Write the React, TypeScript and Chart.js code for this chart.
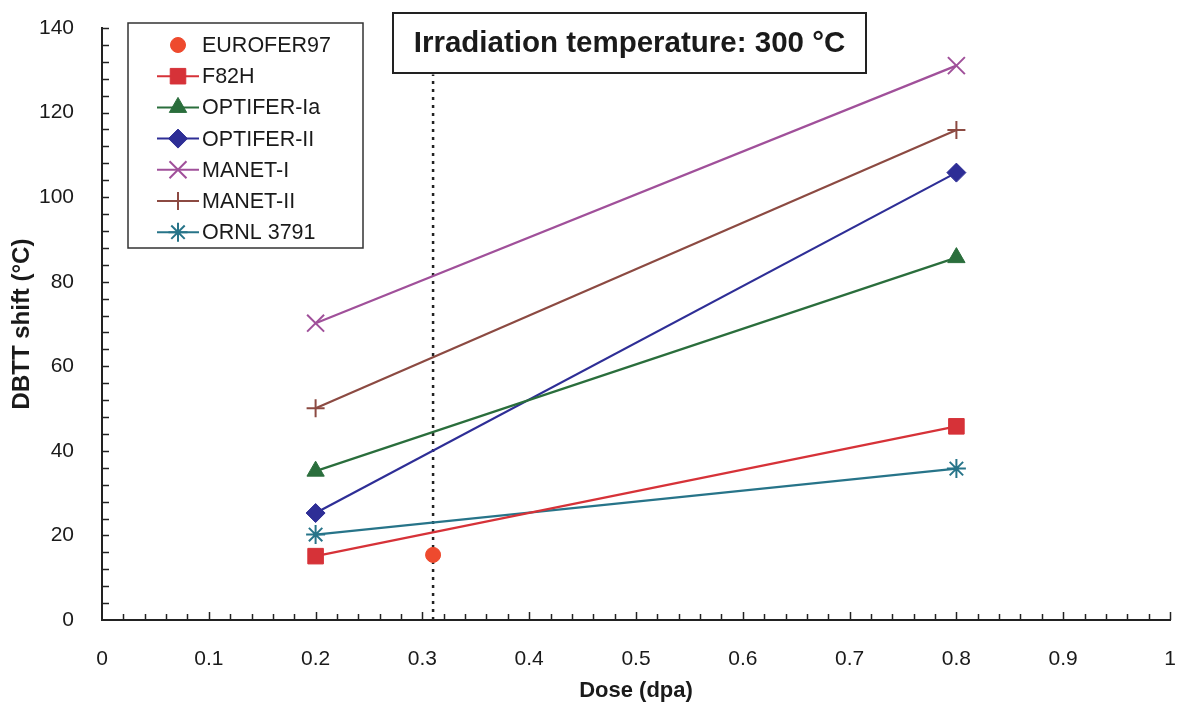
import React, { useEffect, useRef } from "react";
import { Chart, registerables } from "chart.js";
import { drawPoint } from "chart.js/helpers";

Chart.register(...registerables);

// ---- Data ----
const doses = [0.2, 0.8];
const eurofer97Dose = [0.31];
const eurofer97 = [15.4];
const f82h = [15.1, 45.8];
const optiferIa = [35.2, 85.7];
const optiferII = [25.3, 105.8];
const manetI = [70.2, 131.1];
const manetII = [50.1, 115.9];
const ornl3791 = [20.2, 35.8];
const refLineDose = [0.31, 0.31];
const refLineShift = [0, 129];

const seriesNames = [
  "EUROFER97",
  "F82H",
  "OPTIFER-Ia",
  "OPTIFER-II",
  "MANET-I",
  "MANET-II",
  "ORNL 3791",
];
const seriesColors = [
  "#ee4a2e",
  "#d63238",
  "#2a6e3c",
  "#2e2e96",
  "#a0509a",
  "#8c4a42",
  "#277489",
];
const titleText = "Irradiation temperature: 300 °C";
const xTitle = "Dose (dpa)";
const yTitle = "DBTT shift (°C)";
const xMin = 0, xMax = 1, xStep = 0.1, xMinorStep = 0.02;
const yMin = 0, yMax = 140, yStep = 20, yMinorStep = 4;

const FONT = "'Liberation Sans', Arial, Helvetica, sans-serif";

const toPts = (xs: number[], ys: number[]) => ys.map((y, i) => ({ x: xs[i], y }));

const inwardTicks = {
  id: "inwardTicks",
  beforeDatasetsDraw(chart: any) {
    const { ctx, chartArea } = chart;
    const xs = chart.scales.x;
    const ys = chart.scales.y;
    ctx.save();
    ctx.strokeStyle = "#222";
    ctx.lineWidth = 1.5;
    const nx = Math.round((xMax - xMin) / xMinorStep);
    for (let i = 1; i <= nx; i++) {
      const v = xMin + i * xMinorStep;
      const px = Math.round(xs.getPixelForValue(v)) + 0.5;
      const len = i % 5 === 0 ? 8 : 6;
      ctx.beginPath();
      ctx.moveTo(px, chartArea.bottom);
      ctx.lineTo(px, chartArea.bottom - len);
      ctx.stroke();
    }
    const ny = Math.round((yMax - yMin) / yMinorStep);
    for (let i = 1; i <= ny; i++) {
      const v = yMin + i * yMinorStep;
      const py = Math.round(ys.getPixelForValue(v)) + 0.5;
      ctx.beginPath();
      ctx.moveTo(chartArea.left, py);
      ctx.lineTo(chartArea.left + 7, py);
      ctx.stroke();
    }
    ctx.restore();
  },
};

const boxesPlugin = {
  id: "boxes",
  afterDraw(chart: any) {
    const { ctx, chartArea } = chart;
    ctx.save();
    // Title box
    const tL = chartArea.left + 291;
    const tT = chartArea.top - 15;
    const tW = 473;
    const tH = 60;
    ctx.fillStyle = "#fff";
    ctx.fillRect(tL, tT, tW, tH);
    ctx.strokeStyle = "#222";
    ctx.lineWidth = 2;
    ctx.strokeRect(tL, tT, tW, tH);
    ctx.fillStyle = "#1a1a1a";
    ctx.font = `bold 29.5px ${FONT}`;
    ctx.textAlign = "center";
    ctx.textBaseline = "middle";
    ctx.fillText(titleText, tL + tW / 2, tT + tH / 2 + 1);

    // Legend box
    const lL = chartArea.left + 26;
    const lT = chartArea.top - 5;
    const lW = 235;
    const lH = 225;
    ctx.fillStyle = "#fff";
    ctx.fillRect(lL, lT, lW, lH);
    ctx.strokeStyle = "#333";
    ctx.lineWidth = 1.5;
    ctx.strokeRect(lL, lT, lW, lH);
    const items = chart.data.datasets.filter((d: any) => !d.hideInLegend);
    items.forEach((ds: any, i: number) => {
      const y = lT + 22 + i * 31.2;
      if (ds.showLine !== false) {
        ctx.strokeStyle = ds.borderColor;
        ctx.lineWidth = 2;
        ctx.beginPath();
        ctx.moveTo(lL + 29, y);
        ctx.lineTo(lL + 71, y);
        ctx.stroke();
      }
      ctx.fillStyle = ds.pointBackgroundColor;
      ctx.strokeStyle = ds.pointBorderColor;
      ctx.lineWidth = ds.pointBorderWidth;
      drawPoint(
        ctx,
        {
          pointStyle: ds.pointStyle,
          radius: ds.pointRadius,
          rotation: 0,
          borderWidth: ds.pointBorderWidth,
        } as any,
        lL + 50,
        y
      );
      ctx.fillStyle = "#1a1a1a";
      ctx.font = `21.5px ${FONT}`;
      ctx.textAlign = "left";
      ctx.textBaseline = "middle";
      ctx.fillText(ds.label, lL + 74, y + 1);
    });
    ctx.restore();
  },
};

const styles = [
  { style: "circle", radius: 7.5, bw: 1 },
  { style: "rect", radius: 11, bw: 1 },
  { style: "triangle", radius: 10, bw: 1 },
  { style: "rectRot", radius: 9.5, bw: 1 },
  { style: "crossRot", radius: 12, bw: 2 },
  { style: "cross", radius: 9, bw: 2 },
  { style: "star", radius: 9.5, bw: 2 },
];

export default function App() {
  const ref = useRef<HTMLCanvasElement | null>(null);

  useEffect(() => {
    document.body.style.margin = "0";
    if (!ref.current) return;
    const series = [
      toPts(eurofer97Dose, eurofer97),
      toPts(doses, f82h),
      toPts(doses, optiferIa),
      toPts(doses, optiferII),
      toPts(doses, manetI),
      toPts(doses, manetII),
      toPts(doses, ornl3791),
    ];
    const datasets: any[] = series.map((data, i) => ({
      label: seriesNames[i],
      data,
      showLine: i !== 0,
      borderColor: seriesColors[i],
      backgroundColor: seriesColors[i],
      pointBackgroundColor: seriesColors[i],
      pointBorderColor: seriesColors[i],
      pointStyle: styles[i].style,
      pointRadius: styles[i].radius,
      pointHoverRadius: styles[i].radius,
      pointBorderWidth: styles[i].bw,
      borderWidth: 2.2,
      tension: 0,
      order: 1,
    }));
    datasets.push({
      label: "reference dose",
      data: toPts(refLineDose, refLineShift),
      showLine: true,
      borderColor: "#222",
      borderWidth: 2.5,
      borderDash: [3, 5],
      pointRadius: 0,
      hideInLegend: true,
      order: 100,
    });

    const chart = new Chart(ref.current, {
      type: "scatter",
      data: { datasets },
      options: {
        responsive: false,
        animation: false,
        devicePixelRatio: 1,
        layout: { padding: { top: 28, right: 12, left: 0, bottom: 0 } },
        plugins: {
          legend: { display: false },
          tooltip: { enabled: false },
        },
        scales: {
          x: {
            type: "linear",
            min: xMin,
            max: xMax,
            grid: { display: false },
            border: { display: true, color: "#222", width: 2 },
            ticks: {
              stepSize: xStep,
              color: "#1a1a1a",
              font: { family: FONT, size: 21 },
              padding: 19,
              maxRotation: 0,
              callback: (v: any) => String(Math.round(Number(v) * 10) / 10),
            },
            title: {
              display: true,
              text: xTitle,
              color: "#1a1a1a",
              font: { family: FONT, size: 22, weight: "bold" },
              padding: { top: 0, bottom: 0 },
            },
            afterFit: (s: any) => {
              s.height = 84;
              s.paddingLeft = 6;
              s.paddingRight = 6;
            },
          },
          y: {
            type: "linear",
            min: yMin,
            max: yMax,
            grid: { display: false },
            border: { display: true, color: "#222", width: 2 },
            ticks: {
              stepSize: yStep,
              color: "#1a1a1a",
              font: { family: FONT, size: 21 },
              padding: 20,
            },
            title: {
              display: true,
              text: yTitle,
              color: "#1a1a1a",
              font: { family: FONT, size: 24, weight: "bold" },
              padding: { top: 8, bottom: 0 },
            },
            afterFit: (s: any) => {
              s.width = 102;
              s.paddingTop = 6;
              s.paddingBottom = 6;
            },
          },
        },
      } as any,
      plugins: [inwardTicks, boxesPlugin],
    });
    return () => chart.destroy();
  }, []);

  return (
    <div style={{ width: 1184, height: 704, background: "#fff" }}>
      <canvas ref={ref} width={1184} height={704} style={{ display: "block" }} />
    </div>
  );
}
